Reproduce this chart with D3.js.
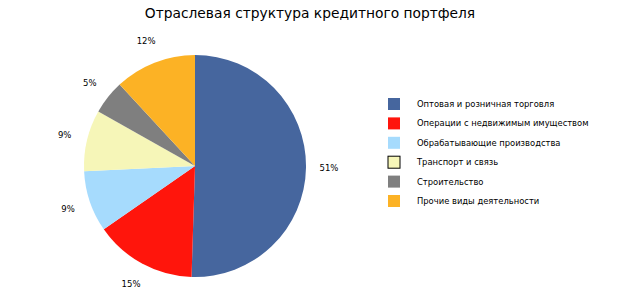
<!DOCTYPE html>
<html><head><meta charset="utf-8">
<script src="https://cdn.jsdelivr.net/npm/d3@7"></script>
<style>body{margin:0;background:#fff}svg{display:block}</style>
</head><body>
<svg id="c" width="640" height="300"></svg>
<script>
const categories = ["Оптовая и розничная торговля","Операции с недвижимым имуществом","Обрабатывающие производства","Транспорт и связь","Строительство","Прочие виды деятельности"];
const values = [51, 15, 9, 9, 5, 12];
const labels = ["51%","15%","9%","9%","5%","12%"];
const colors = ["#46669E","#FF150C","#A6DBFD","#F6F6B8","#7F7F7F","#FCB225"];

const svg = d3.select("#c");
const W = 640, H = 300;
svg.append("rect").attr("width",W).attr("height",H).attr("fill","#fff");

svg.append("text").attr("x",310).attr("y",18).attr("text-anchor","middle")
  .attr("font-family","Verdana, 'DejaVu Sans', sans-serif").attr("font-size",13.8).attr("fill","#000")
  .text("Отраслевая структура кредитного портфеля");

const cx = 195, cy = 166, r = 111;
const pie = d3.pie().sort(null).value(d=>d);
const arcs = pie(values);
const arc = d3.arc().innerRadius(0).outerRadius(r);
const g = svg.append("g").attr("transform",`translate(${cx},${cy})`);
g.selectAll("path").data(arcs).join("path").attr("d",arc).attr("fill",(d,i)=>colors[i]);

const lab = d3.arc().innerRadius(r+23).outerRadius(r+23);
g.selectAll("text").data(arcs).join("text")
  .attr("transform",d=>`translate(${lab.centroid(d)})`)
  .attr("text-anchor","middle").attr("dy","0.35em")
  .attr("font-family","Verdana, 'DejaVu Sans', sans-serif").attr("font-size",8.5).attr("fill","#000")
  .text((d,i)=>labels[i]);

const y = d3.scalePoint().domain(categories).range([104,201]);
const lg = svg.append("g");
lg.selectAll("rect").data(categories).join("rect")
  .attr("x",388).attr("y",d=>y(d)-6).attr("width",12).attr("height",12)
  .attr("fill",(d,i)=>colors[i])
  .attr("stroke",(d,i)=>i===3?"#000":"none").attr("stroke-width",1);
lg.selectAll("text").data(categories).join("text")
  .attr("x",417).attr("y",d=>y(d)).attr("dy","0.35em")
  .attr("font-family","Verdana, 'DejaVu Sans', sans-serif").attr("font-size",8.4).attr("fill","#000")
  .text(d=>d);
</script>
</body></html>
